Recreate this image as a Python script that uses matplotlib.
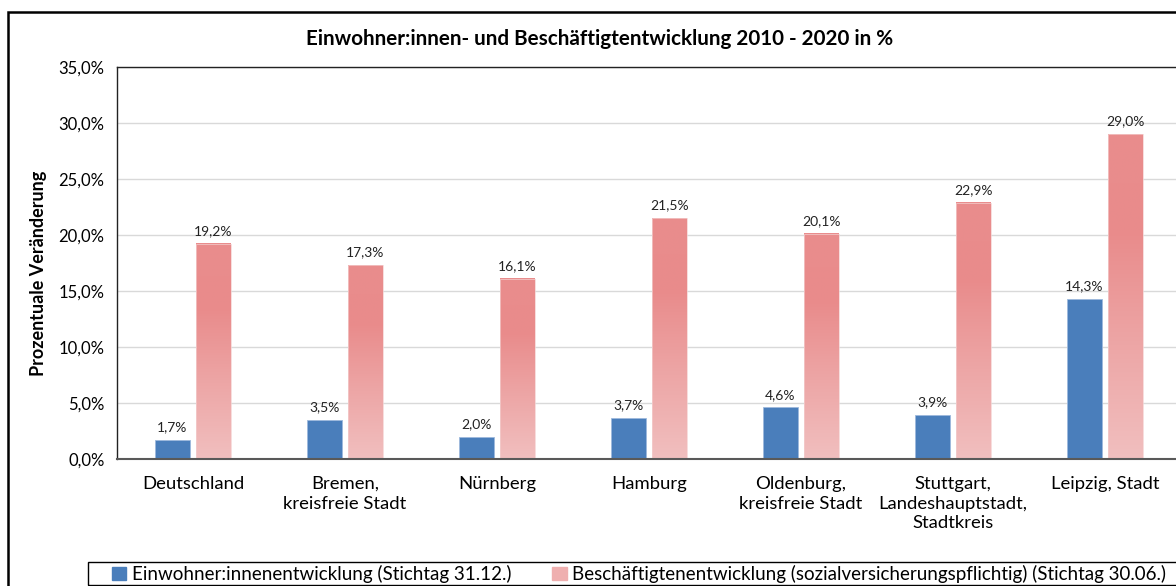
import numpy as np
import matplotlib.pyplot as plt
from matplotlib.colors import LinearSegmentedColormap
from matplotlib.patches import Rectangle, Patch

plt.rcParams['font.family'] = ['Lato', 'DejaVu Sans']

regions = ['Deutschland', 'Bremen,\nkreisfreie Stadt', 'Nürnberg', 'Hamburg',
           'Oldenburg,\nkreisfreie Stadt', 'Stuttgart,\nLandeshauptstadt,\nStadtkreis',
           'Leipzig, Stadt']
einwohner = [1.7, 3.5, 2.0, 3.7, 4.6, 3.9, 14.3]
beschaeftigte = [19.2, 17.3, 16.1, 21.5, 20.1, 22.9, 29.0]
yticks = [0, 5, 10, 15, 20, 25, 30, 35]

blue = '#4A7EBB'
pink_cmap = LinearSegmentedColormap.from_list(
    'pink', [(0.0, '#F1BFBF'), (0.35, '#EDA6A6'), (0.7, '#E98B8B'), (1.0, '#E98D8D')])


def fmt(v):
    return f'{v:.1f}'.replace('.', ',') + '%'


fig = plt.figure(figsize=(11.76, 5.86), dpi=100)
ax = fig.add_axes([117 / 1176, 1 - 459 / 586, 1064 / 1176, 392 / 586])

x = np.arange(len(regions))
w = 0.224
off = 0.135

ax.bar(x - off, einwohner, w, color=blue, edgecolor='#9DB9DD', linewidth=0.6, zorder=3)

grad = np.linspace(0, 1, 256).reshape(-1, 1)
for xi, v in zip(x, beschaeftigte):
    x0 = xi + off - w / 2
    ax.imshow(grad, cmap=pink_cmap, origin='lower', aspect='auto',
              extent=[x0, x0 + w, 0, v], zorder=3, interpolation='bilinear')
    ax.add_patch(Rectangle((x0, 0), w, v, fill=False, edgecolor='#F4CFCF',
                           linewidth=0.5, zorder=4))

for xi, v in zip(x, einwohner):
    ax.text(xi - off, v + 0.6, fmt(v), ha='center', va='bottom', fontsize=10, color='#222222')
for xi, v in zip(x, beschaeftigte):
    ax.text(xi + off, v + 0.6, fmt(v), ha='center', va='bottom', fontsize=10, color='#222222')

ax.set_xlim(-0.5, len(regions) - 0.5)
ax.set_ylim(0, 35)
ax.set_yticks(yticks)
ax.set_yticklabels([fmt(t) for t in yticks], fontsize=12)
ax.set_xticks(x)
ax.set_xticklabels(regions, fontsize=13.3, linespacing=1.3)
ax.tick_params(axis='both', length=0, pad=9)
ax.tick_params(axis='x', pad=12)
ax.grid(axis='y', color='#D9D9D9', linewidth=1, zorder=0)
ax.set_axisbelow(True)
for s in ['left', 'top']:
    ax.spines[s].set_color('#222222')
    ax.spines[s].set_linewidth(1.0)
ax.spines['right'].set_visible(False)
ax.spines['bottom'].set_color('#595959')
ax.spines['bottom'].set_linewidth(1.5)
ax.spines['bottom'].set_zorder(5)

ax.set_ylabel('Prozentuale Veränderung', fontsize=13, fontweight='bold')
ax.yaxis.set_label_coords((47 - 117) / 1064, (459 - 273) / 392)

fig.text(600 / 1176, 1 - 39 / 586, 'Einwohner:innen- und Beschäftigtentwicklung 2010 - 2020 in %',
         ha='center', va='center', fontsize=14.9, fontweight='bold')

# outer chart border
fig.add_artist(Rectangle((8 / 1176, -0.1), 1.2, 1 - 12 / 586 + 0.1, transform=fig.transFigure,
                         fill=False, edgecolor='black', linewidth=1.8))

# legend box (runs past the right edge like in the reference)
fig.add_artist(Rectangle((88 / 1176, 1 - 585 / 586), 1.2, 23 / 586, transform=fig.transFigure,
                         fill=False, edgecolor='black', linewidth=1.0))

handles = [Patch(color=blue), Patch(color='#EFAFAF')]
labels = ['Einwohner:innenentwicklung (Stichtag 31.12.)',
          'Beschäftigtenentwicklung (sozialversicherungspflichtig) (Stichtag 30.06.)']
fig.legend(handles, labels, loc='center left', bbox_to_anchor=(112 / 1176, 1 - 574 / 586),
           ncol=2, fontsize=13.5, frameon=False,
           handlelength=0.75, handleheight=0.75, handletextpad=0.3, columnspacing=2.2,
           borderpad=0, borderaxespad=0)

fig.savefig('out.png', dpi=100)
